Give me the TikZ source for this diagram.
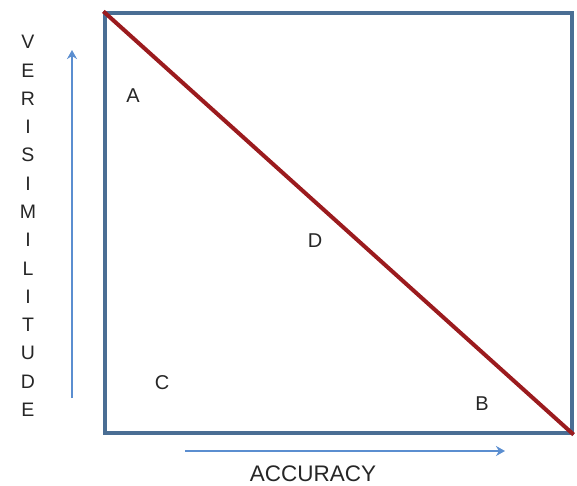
\documentclass[tikz,border=0pt]{standalone}
\usepackage{fontspec}
\setmainfont{Liberation Sans}
\usepackage{tikz}
\usetikzlibrary{arrows.meta, positioning}

\definecolor{boxblue}{HTML}{4A6E94}
\definecolor{arrowblue}{HTML}{5B8ED0}
\definecolor{diagred}{HTML}{9B1B1E}

\tikzset{
  axisarrow/.style={-{Stealth[length=9pt, width=10pt]}, line width=2.2pt, arrowblue},
  region/.style={font=\fontsize{20}{20}\selectfont, text=black!85},
  axislabel/.style={font=\fontsize{19.5}{19.5}\selectfont, text=black!85, inner sep=0pt}
}

\begin{document}
\begin{tikzpicture}[x=1pt, y=-1pt]
  \useasboundingbox (0,0) rectangle (577,486);

  % the square
  \node[draw=boxblue, line width=3.2pt, minimum width=467pt, minimum height=420pt, inner sep=0pt] (plot) at (338.5,223) {};
  \draw[diagred, line width=4pt] (plot.north west) -- (plot.south east);

  % regions
  \node[region] (A) at (133,96) {A};
  \node[region] (D) at (315,241) {D};
  \node[region] (C) at (162,383) {C};
  \node[region] (B) at (482,404) {B};

  % axes
  \coordinate (ybot) at (72,398);
  \coordinate (ytop) at (72,50);
  \draw[axisarrow] (ybot) -- (ytop);
  \coordinate (xleft) at (185,451);
  \coordinate (xright) at (505,451);
  \draw[axisarrow] (xleft) -- (xright);

  \node[axislabel, font=\fontsize{22.5}{22.5}\selectfont] (acc) at (313,474) {ACCURACY};
  \foreach \l [count=\i] in {V,E,R,I,S,I,M,I,L,I,T,U,D,E}
    \node[axislabel] (v\i) at (28, 42+28.3*\i-28.3) {\l};
\end{tikzpicture}
\end{document}
